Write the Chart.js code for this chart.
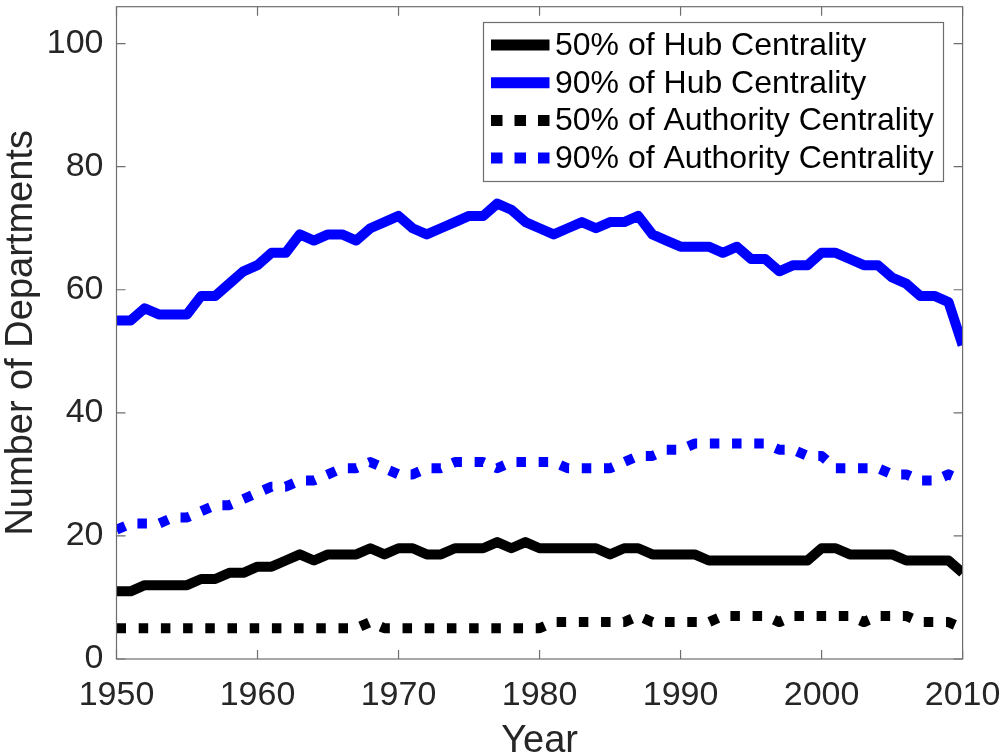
<!DOCTYPE html>
<html><head><meta charset="utf-8">
<script src="https://cdn.jsdelivr.net/npm/chart.js@4.4.0/dist/chart.umd.min.js"></script>
<style>html,body{margin:0;padding:0;background:#fff}</style>
</head><body>
<canvas id="c" width="1000" height="753"></canvas>
<script>
const years = [1950,1951,1952,1953,1954,1955,1956,1957,1958,1959,
  1960,1961,1962,1963,1964,1965,1966,1967,1968,1969,
  1970,1971,1972,1973,1974,1975,1976,1977,1978,1979,
  1980,1981,1982,1983,1984,1985,1986,1987,1988,1989,
  1990,1991,1992,1993,1994,1995,1996,1997,1998,1999,
  2000,2001,2002,2003,2004,2005,2006,2007,2008,2009,2010];
const hub50 = [11,11,12,12,12,12,13,13,14,14,
  15,15,16,17,16,17,17,17,18,17,
  18,18,17,17,18,18,18,19,18,19,
  18,18,18,18,18,17,18,18,17,17,
  17,17,16,16,16,16,16,16,16,16,
  18,18,17,17,17,17,16,16,16,16,14];
const hub90 = [55,55,57,56,56,56,59,59,61,63,
  64,66,66,69,68,69,69,68,70,71,
  72,70,69,70,71,72,72,74,73,71,
  70,69,70,71,70,71,71,72,69,68,
  67,67,67,66,67,65,65,63,64,64,
  66,66,65,64,64,62,61,59,59,58,51];
const auth50 = [5,5,5,5,5,5,5,5,5,5,
  5,5,5,5,5,5,5,5,6,5,
  5,5,5,5,5,5,5,5,5,5,
  5,6,6,6,6,6,6,7,6,6,
  6,6,6,7,7,7,7,6,7,7,
  7,7,7,6,7,7,7,6,6,6,5];
const auth90 = [21,22,22,22,23,23,24,25,25,26,
  27,28,28,29,29,30,31,31,32,31,
  30,30,31,31,32,32,32,31,32,32,
  32,32,31,31,31,31,32,33,33,34,
  34,35,35,35,35,35,35,34,34,33,
  33,31,31,31,31,30,30,29,29,30,29];
const seriesLabels = ['50% of Hub Centrality','90% of Hub Centrality','50% of Authority Centrality','90% of Authority Centrality'];
const xTicks = [1950,1960,1970,1980,1990,2000,2010];
const yTicks = [0,20,40,60,80,100];

const FONT = "'Liberation Sans', Arial, Helvetica, sans-serif";
const TXT = '#262626';
const AX = '#6e6e6e';
const BLUE = '#0000ff';
const DOT = [9.5, 12.7];

function pts(vals){ return years.map((y,i)=>({x:y,y:vals[i]})); }
function ds(label, vals, color, dashed){
  return {label, data: pts(vals), borderColor: color, backgroundColor: color,
    borderWidth: 10, pointRadius: 0, tension: 0, fill: false,
    borderDash: dashed ? DOT : [], borderCapStyle: 'butt', borderJoinStyle: 'round'};
}

const boxPlugin = {
  id: 'boxPlugin',
  afterDatasetsDraw(chart){
    const {ctx, chartArea: a, scales:{x, y}} = chart;
    ctx.save();
    ctx.strokeStyle = AX; ctx.lineWidth = 1.2;
    ctx.strokeRect(a.left, a.top, a.right - a.left, a.bottom - a.top);
    const tl = 9;
    ctx.beginPath();
    xTicks.forEach(v=>{ const px = x.getPixelForValue(v);
      ctx.moveTo(px, a.bottom); ctx.lineTo(px, a.bottom - tl);
      ctx.moveTo(px, a.top); ctx.lineTo(px, a.top + tl); });
    yTicks.forEach(v=>{ const py = y.getPixelForValue(v);
      ctx.moveTo(a.left, py); ctx.lineTo(a.left + tl, py);
      ctx.moveTo(a.right, py); ctx.lineTo(a.right - tl, py); });
    ctx.stroke();
    ctx.restore();
  },
  afterDraw(chart){
    const {ctx} = chart;
    const bx = 483.5, by = 22.5, bw = 460, bh = 159;
    ctx.save();
    ctx.fillStyle = '#fff';
    ctx.fillRect(bx, by, bw, bh);
    ctx.strokeStyle = AX; ctx.lineWidth = 1.2;
    ctx.strokeRect(bx, by, bw, bh);
    ctx.font = '32px ' + FONT;
    ctx.textBaseline = 'middle';
    ctx.textAlign = 'left';
    chart.data.datasets.forEach((d, i)=>{
      const cy = 45 + i * 37.7;
      ctx.beginPath();
      ctx.strokeStyle = d.borderColor;
      ctx.lineWidth = 11;
      ctx.lineCap = 'butt';
      ctx.setLineDash(d.borderDash && d.borderDash.length ? [11.5, 12] : []);
      ctx.moveTo(491, cy); ctx.lineTo(549.5, cy);
      ctx.stroke();
      ctx.setLineDash([]);
      ctx.fillStyle = '#000';
      ctx.fillText(d.label, 555, cy + 1);
    });
    ctx.restore();
  }
};

new Chart(document.getElementById('c'), {
  type: 'line',
  data: { datasets: [
    ds(seriesLabels[0], hub50, '#000000', false),
    ds(seriesLabels[1], hub90, BLUE, false),
    ds(seriesLabels[2], auth50, '#000000', true),
    ds(seriesLabels[3], auth90, BLUE, true)
  ]},
  options: {
    responsive: false, animation: false, devicePixelRatio: 1,
    layout: { padding: { left: 0, right: 37.4, top: 6.7, bottom: 0 } },
    plugins: { legend: { display: false }, tooltip: { enabled: false } },
    scales: {
      x: { type: 'linear', min: 1950, max: 2010,
        afterBuildTicks(s){ s.ticks = xTicks.map(v=>({value:v})); },
        afterFit(s){ s.height = 94; s.paddingLeft = 0; s.paddingRight = 0; },
        grid: { display: false, drawTicks: false }, border: { display: false },
        ticks: { color: TXT, font: { family: FONT, size: 34 }, padding: 16, maxRotation: 0,
          callback: v => String(v) },
        title: { display: true, text: 'Year', color: TXT, font: { family: FONT, size: 38, lineHeight: 0.6 }, padding: 0 }
      },
      y: { min: 0, max: 106,
        afterBuildTicks(s){ s.ticks = yTicks.map(v=>({value:v})); },
        afterFit(s){ s.width = 116.5; s.paddingTop = 0; s.paddingBottom = 0; },
        grid: { display: false, drawTicks: false }, border: { display: false },
        ticks: { color: TXT, font: { family: FONT, size: 34 }, padding: 13 },
        title: { display: true, text: 'Number of Departments', color: TXT, font: { family: FONT, size: 38, lineHeight: 1 }, padding: { top: 3, bottom: 0 } }
      }
    }
  },
  plugins: [boxPlugin]
});
</script>
</body></html>
